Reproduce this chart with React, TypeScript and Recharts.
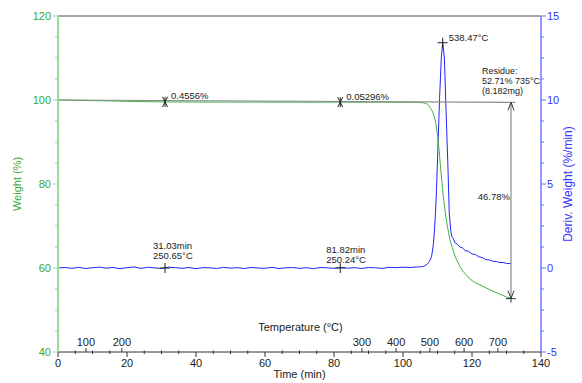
import { ComposedChart, Line, XAxis, YAxis, ReferenceLine, ReferenceDot } from "recharts";

// weight (%) vs time (min)
const weightTime = [0, 5, 10, 15, 20, 25, 31.03, 40, 50, 60, 70, 81.82, 90, 100, 104, 105, 106, 107, 108, 108.8, 109.4, 109.8, 110.3, 110.7, 111.2, 111.7, 112.2, 112.7, 113.2, 113.6, 114.3, 115.1, 116, 117, 118.5, 120, 122, 124, 126, 128, 130, 131.3];
const weightValue = [100, 99.93, 99.85, 99.77, 99.69, 99.61, 99.544, 99.52, 99.51, 99.5, 99.5, 99.49, 99.48, 99.47, 99.45, 99.42, 99.3, 99.05, 98.0, 96.7, 94.9, 92.9, 89.5, 85.8, 81.2, 77.0, 73.6, 70.8, 68.5, 66.8, 64.8, 62.8, 61.2, 59.7, 58.2, 57.0, 56.1, 55.3, 54.5, 53.8, 53.1, 52.71];

// derivative weight (%/min) vs time (min)
const derivTime = [0, 2, 4, 6, 8, 10, 12, 14, 16, 18, 20, 22, 24, 26, 28, 30, 32, 34, 36, 38, 40, 42, 44, 46, 48, 50, 52, 54, 56, 58, 60, 62, 64, 66, 68, 70, 72, 74, 76, 78, 80, 82, 84, 86, 88, 90, 92, 94, 96, 98, 100, 102, 104, 105, 106, 107, 107.7, 108.3, 108.8, 109.1, 109.4, 109.7, 110.1, 110.6, 111.1, 111.5, 112.0, 112.5, 113.0, 113.4, 113.8, 114.1, 114.6, 115.1, 115.8, 116.5, 117.2, 118, 119, 120, 121, 122, 123, 124, 125, 126, 127, 128, 129, 130, 131.3];
const derivValue = [0.0, 0.03, -0.02, 0.04, -0.03, 0.02, 0.05, -0.01, 0.03, -0.04, 0.02, 0.06, -0.02, 0.04, 0.01, -0.03, 0.05, 0.02, -0.02, 0.03, -0.04, 0.02, 0.01, -0.03, 0.04, -0.01, 0.02, -0.03, 0.03, 0.0, -0.02, 0.04, -0.03, 0.01, 0.03, -0.02, 0.02, -0.04, 0.03, 0.01, -0.02, 0.04, -0.01, 0.02, -0.03, 0.03, 0.01, -0.02, 0.04, 0.02, 0.05, 0.03, 0.06, 0.07, 0.1, 0.22, 0.4, 0.7, 1.4, 2.2, 3.2, 4.6, 7.0, 10.1, 12.5, 13.41, 12.5, 9.2, 6.2, 3.3, 2.3, 1.9, 1.74, 1.5, 1.4, 1.25, 1.2, 1.04, 0.99, 0.84, 0.8, 0.66, 0.62, 0.5, 0.48, 0.4, 0.39, 0.32, 0.33, 0.27, 0.26];

const timeTicks = [0, 5, 10, 15, 20, 25, 30, 35, 40, 45, 50, 55, 60, 65, 70, 75, 80, 85, 90, 95, 100, 105, 110, 115, 120, 125, 130, 135, 140];
const weightTicks = [40, 45, 50, 55, 60, 65, 70, 75, 80, 85, 90, 95, 100, 105, 110, 115, 120];
const derivTicks = [-5, -3.75, -2.5, -1.25, 0, 1.25, 2.5, 3.75, 5, 6.25, 7.5, 8.75, 10, 11.25, 12.5, 13.75, 15];

// temperature axis: time position of each temperature tick
const tempTickTime = [8.1, 18.5, 88.1, 98.0, 107.8, 117.7, 127.5];
const tempTickLabel = ["100", "200", "300", "400", "500", "600", "700"];

// annotations
const stepPoints = [
  { t: 31.03, w: 99.544, label: "0.4556%" },
  { t: 81.82, w: 99.49, label: "0.05296%" },
];
const isoPoints = [
  { t: 31.03, d: 0.0, lines: ["31.03min", "250.65°C"], dx: -12, dy: -19.5 },
  { t: 81.82, d: 0.0, lines: ["81.82min", "250.24°C"], dx: -14, dy: -15.5 },
];
const peak = { t: 111.5, d: 13.41, label: "538.47°C" };
const residue = { t: 131.3, top: 99.45, bottom: 52.71, lines: ["Residue:", "52.71% 735°C", "(8.182mg)"], loss: "46.78%" };
const stepLine = { t0: 0, w0: 100, t1: 132.5, w1: 99.45 };

const weightData = weightTime.map((t, i) => ({ t, v: weightValue[i] }));
const derivData = derivTime.map((t, i) => ({ t, v: derivValue[i] }));

const GREEN = "#3cb043";
const GREEN_TEXT = "#35a835";
const GREEN_AXIS = "#9bd89b";
const BLUE = "#2424ff";
const BLUE_TEXT = "#3535ff";
const BLUE_AXIS = "#7373ff";
const GREY = "#8a8a8a";
const FONT = "Liberation Sans, Arial, sans-serif";

const LeftTick = ({ x, y, payload }: any) => {
  const major = Math.abs(payload.value % 20) < 1e-6;
  return (
    <g>
      <line x1={x - (major ? 5 : 3)} x2={x} y1={y} y2={y} stroke={GREEN_AXIS} />
      {major && (
        <text x={x - 7} y={y + 4} textAnchor="end" fill={GREEN_TEXT} fontSize={11} fontFamily={FONT}>
          {payload.value}
        </text>
      )}
    </g>
  );
};

const RightTick = ({ x, y, payload }: any) => {
  const major = Math.abs(payload.value % 5) < 1e-6;
  return (
    <g>
      <line x1={x} x2={x + (major ? 5 : 3)} y1={y} y2={y} stroke={BLUE_AXIS} />
      {major && (
        <text x={x + 6} y={y + 4} textAnchor="start" fill={BLUE_TEXT} fontSize={11} fontFamily={FONT}>
          {payload.value}
        </text>
      )}
    </g>
  );
};

const BottomTick = ({ x, y, payload }: any) => {
  const major = payload.value % 20 === 0;
  return (
    <g>
      <line x1={x} x2={x} y1={major ? y : y - 1.5} y2={y + (major ? 5 : 2)} stroke="#333" />
      {major && (
        <text x={x} y={y + 15} textAnchor="middle" fill="#222" fontSize={11} fontFamily={FONT}>
          {payload.value}
        </text>
      )}
    </g>
  );
};

const xMark = (stroke: string) => ({ cx, cy }: any) => (
  <g stroke={stroke} strokeWidth={1} fill="none">
    <line x1={cx} x2={cx} y1={cy - 5} y2={cy + 5} />
    <path d={`M${cx - 2.5},${cy - 5} L${cx + 2.5},${cy + 5} M${cx + 2.5},${cy - 5} L${cx - 2.5},${cy + 5}`} />
  </g>
);

const plusMark = ({ cx, cy }: any) => (
  <g stroke="#222" strokeWidth={1}>
    <line x1={cx - 5} x2={cx + 5} y1={cy} y2={cy} />
    <line x1={cx} x2={cx} y1={cy - 5} y2={cy + 5} />
  </g>
);

const txt = { fontSize: 9.5, fontFamily: FONT, fill: "#222" } as const;

export default function App() {
  return (
    <div style={{ position: "absolute", left: 0, top: 0, width: 582, height: 383, background: "#fff" }}>
      <ComposedChart width={582} height={383} margin={{ top: 16, right: 0, bottom: 0, left: 0 }}>
        <XAxis
          type="number"
          dataKey="t"
          xAxisId="time"
          domain={[0, 140]}
          ticks={timeTicks}
          interval={0}
          tick={<BottomTick />}
          tickLine={false}
          tickSize={0}
          tickMargin={0}
          axisLine={{ stroke: "#333" }}
          height={31}
          allowDataOverflow
          label={{ value: "Time (min)", position: "insideBottom", offset: 5, style: { fontSize: 11, fontFamily: FONT, fill: "#222" } }}
        />
        <YAxis
          yAxisId="w"
          domain={[40, 120]}
          ticks={weightTicks}
          interval={0}
          tick={<LeftTick />}
          tickLine={false}
          tickSize={0}
          tickMargin={0}
          axisLine={{ stroke: GREEN_AXIS, strokeWidth: 2 }}
          width={58}
          allowDataOverflow
          label={{ value: "Weight (%)", angle: -90, position: "insideLeft", offset: 17, style: { textAnchor: "middle", fontSize: 11, fontFamily: FONT, fill: GREEN_TEXT } }}
        />
        <YAxis
          yAxisId="d"
          orientation="right"
          domain={[-5, 15]}
          ticks={derivTicks}
          interval={0}
          tick={<RightTick />}
          tickLine={false}
          tickSize={0}
          tickMargin={0}
          axisLine={{ stroke: BLUE_AXIS, strokeWidth: 1.5 }}
          width={41}
          allowDataOverflow
          label={{ value: "Deriv. Weight (%/min)", angle: -90, position: "insideRight", offset: 14, style: { textAnchor: "middle", fontSize: 12, fontFamily: FONT, fill: BLUE_TEXT } }}
        />

        <ReferenceLine xAxisId="time" yAxisId="w" y={120} stroke={GREY} strokeWidth={1.5} />

        <Line xAxisId="time" yAxisId="d" data={derivData} dataKey="v" type="linear" stroke={BLUE} strokeWidth={1} dot={false} activeDot={false} isAnimationActive={false} />
        <Line xAxisId="time" yAxisId="w" data={weightData} dataKey="v" type="monotone" stroke={GREEN} strokeWidth={1} dot={false} activeDot={false} isAnimationActive={false} />

        <ReferenceLine
          xAxisId="time"
          yAxisId="w"
          segment={[{ x: stepLine.t0, y: stepLine.w0 }, { x: stepLine.t1, y: stepLine.w1 }]}
          stroke={GREY}
          strokeWidth={1.2}
        />
        <ReferenceLine
          xAxisId="time"
          yAxisId="w"
          segment={[{ x: residue.t, y: residue.top }, { x: residue.t, y: residue.bottom }]}
          stroke={GREY}
          strokeWidth={1.2}
        />

        {/* temperature axis drawn on top of the time axis */}
        {tempTickTime.map((t, i) => (
          <ReferenceDot
            key={"temp" + i}
            xAxisId="time"
            yAxisId="w"
            x={t}
            y={40}
            ifOverflow="visible"
            shape={({ cx, cy }: any) => (
              <g>
                <line x1={cx} x2={cx} y1={cy} y2={cy - 4} stroke="#333" />
                <text x={cx} y={cy - 6} textAnchor="middle" fontSize={11} fontFamily={FONT} fill="#222">
                  {tempTickLabel[i]}
                </text>
              </g>
            )}
          />
        ))}
        <ReferenceDot
          xAxisId="time"
          yAxisId="w"
          x={70}
          y={40}
          ifOverflow="visible"
          shape={({ cx, cy }: any) => (
            <text x={cx + 1} y={cy - 21} textAnchor="middle" fontSize={11} fontFamily={FONT} fill="#222">
              Temperature (°C)
            </text>
          )}
        />

        {stepPoints.map((p, i) => (
          <ReferenceDot
            key={"step" + i}
            xAxisId="time"
            yAxisId="w"
            x={p.t}
            y={p.w}
            shape={(s: any) => (
              <g>
                {xMark("#222")(s)}
                <text x={s.cx + 6} y={s.cy - 2.5} {...txt}>{p.label}</text>
              </g>
            )}
          />
        ))}

        {isoPoints.map((p, i) => (
          <ReferenceDot
            key={"iso" + i}
            xAxisId="time"
            yAxisId="d"
            x={p.t}
            y={p.d}
            shape={(s: any) => (
              <g>
                {plusMark(s)}
                {p.lines.map((l, j) => (
                  <text key={j} x={s.cx + p.dx} y={s.cy + p.dy + j * 10} {...txt}>{l}</text>
                ))}
              </g>
            )}
          />
        ))}

        <ReferenceDot
          xAxisId="time"
          yAxisId="d"
          x={peak.t}
          y={peak.d}
          shape={(s: any) => (
            <g>
              {plusMark(s)}
              <text x={s.cx + 6} y={s.cy - 1.5} {...txt}>{peak.label}</text>
            </g>
          )}
        />

        <ReferenceDot
          xAxisId="time"
          yAxisId="w"
          x={residue.t}
          y={residue.top}
          shape={({ cx, cy }: any) => (
            <g>
              <path d={`M${cx - 3},${cy + 8} L${cx},${cy} L${cx + 3},${cy + 8}`} stroke="#333" fill="none" />
              {residue.lines.map((l, j) => (
                <text key={j} x={cx - 29} y={cy - 28 + j * 10} fontSize={9} fontFamily={FONT} fill="#222">{l}</text>
              ))}
            </g>
          )}
        />
        <ReferenceDot
          xAxisId="time"
          yAxisId="w"
          x={residue.t}
          y={residue.bottom}
          shape={({ cx, cy }: any) => (
            <g stroke="#333" fill="none">
              <path d={`M${cx - 3},${cy - 8} L${cx},${cy} L${cx + 3},${cy - 8}`} />
              <line x1={cx - 5} x2={cx + 5} y1={cy} y2={cy} />
              <line x1={cx} x2={cx} y1={cy} y2={cy + 4} />
            </g>
          )}
        />
        <ReferenceDot
          xAxisId="time"
          yAxisId="w"
          x={residue.t}
          y={(residue.top + residue.bottom) / 2}
          shape={({ cx, cy }: any) => (
            <text x={cx - 1} y={cy} textAnchor="end" {...txt}>{residue.loss}</text>
          )}
        />
      </ComposedChart>
    </div>
  );
}
